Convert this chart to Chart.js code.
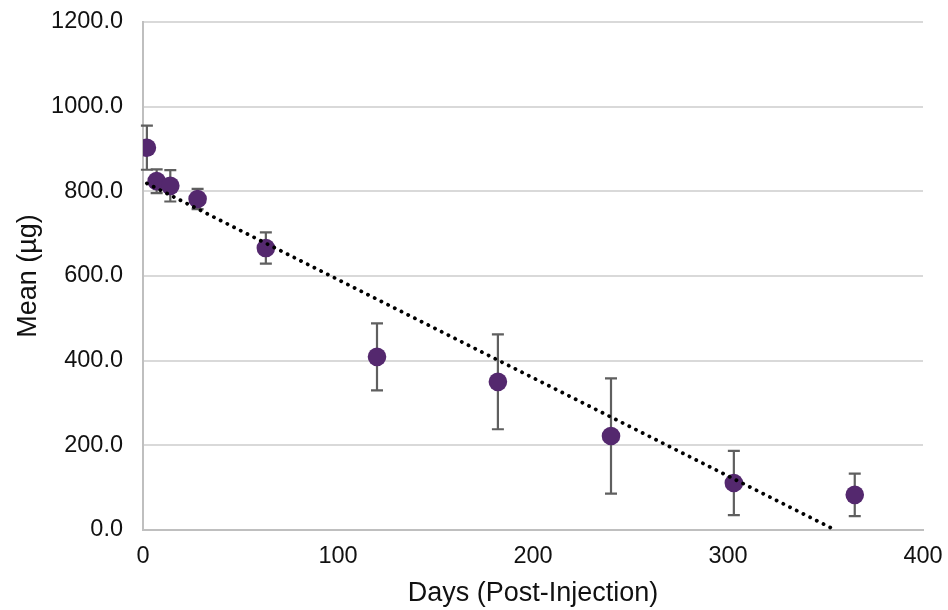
<!DOCTYPE html>
<html>
<head>
<meta charset="utf-8">
<script src="https://cdn.jsdelivr.net/npm/chart.js@4"></script>
<style>
  html, body { margin: 0; padding: 0; background: #fff; }
  #wrap { width: 948px; height: 610px; }
</style>
</head>
<body>
<div id="wrap"><canvas id="chart" width="948" height="610"></canvas></div>
<script>
// data
const days = [2, 7, 14, 28, 63, 120, 182, 240, 303, 365];
const means = [903, 824, 813, 782, 666, 409, 350, 222, 111, 83];
const errs = [52, 28, 37, 24, 37, 79, 112, 136, 76, 50];
const yTicks = [0, 200, 400, 600, 800, 1000, 1200];
const xTicks = [0, 100, 200, 300, 400];

// linear trendline (least squares), clipped at y = 0
const n = days.length;
const mx = days.reduce((a, b) => a + b, 0) / n;
const my = means.reduce((a, b) => a + b, 0) / n;
let sxy = 0, sxx = 0;
days.forEach((d, i) => { sxy += (d - mx) * (means[i] - my); sxx += (d - mx) ** 2; });
const slope = sxy / sxx;
const icpt = my - slope * mx;
const trend = [
  { x: days[0], y: icpt + slope * days[0] },
  { x: -icpt / slope, y: 0 }
];

const errorBars = {
  id: 'errorBars',
  beforeDatasetsDraw(chart) {
    const { ctx, scales: { x, y } } = chart;
    ctx.save();
    ctx.strokeStyle = '#5f5f5f';
    ctx.lineWidth = 2.2;
    days.forEach((d, i) => {
      const px = x.getPixelForValue(d);
      const top = y.getPixelForValue(means[i] + errs[i]);
      const bot = y.getPixelForValue(means[i] - errs[i]);
      ctx.beginPath();
      ctx.moveTo(px, top); ctx.lineTo(px, bot);
      ctx.moveTo(px - 6, top); ctx.lineTo(px + 6, top);
      ctx.moveTo(px - 6, bot); ctx.lineTo(px + 6, bot);
      ctx.stroke();
    });
    ctx.restore();
  }
};

const font = { family: "'Liberation Sans', Arial, sans-serif", size: 23.5 };
const titleFont = { family: "'Liberation Sans', Arial, sans-serif", size: 27 };

new Chart(document.getElementById('chart'), {
  type: 'scatter',
  data: {
    datasets: [
      {
        label: 'Mean',
        data: days.map((d, i) => ({ x: d, y: means[i] })),
        backgroundColor: '#54286e',
        borderWidth: 0,
        pointRadius: 9.3,
        pointHoverRadius: 9.3,
        order: 1
      },
      {
        label: 'Trend',
        type: 'line',
        data: trend,
        borderColor: '#000',
        borderWidth: 3.8,
        borderDash: [0.1, 7.4],
        borderCapStyle: 'round',
        pointRadius: 0,
        fill: false,
        order: 0
      }
    ]
  },
  options: {
    responsive: false,
    animation: false,
    layout: { padding: { top: 22, right: 25, left: 0, bottom: 0 } },
    plugins: { legend: { display: false }, tooltip: { enabled: false } },
    scales: {
      x: {
        type: 'linear',
        min: 0, max: 400,
        afterBuildTicks: s => { s.ticks = xTicks.map(v => ({ value: v })); },
        afterFit: s => { s.height = 80; s.paddingLeft = 0; s.paddingRight = 0; },
        ticks: { color: '#111', font, padding: 12 },
        grid: { color: 'rgba(0,0,0,0)', drawTicks: false },
        border: { color: '#bfbfbf', width: 2 },
        title: { display: true, text: 'Days (Post-Injection)', color: '#111', font: titleFont, padding: { top: 0, bottom: 0 } }
      },
      y: {
        min: 0, max: 1200,
        afterBuildTicks: s => { s.ticks = yTicks.map(v => ({ value: v })); },
        afterFit: s => { s.width = 143; s.paddingTop = 0; s.paddingBottom = 0; },
        ticks: { color: '#111', font, padding: 20, callback: v => v.toFixed(1) },
        grid: { color: '#d9d9d9', lineWidth: 2, drawTicks: false },
        border: { color: '#bfbfbf', width: 2 },
        title: { display: true, text: 'Mean (µg)', color: '#111', font: titleFont, padding: { top: 12, bottom: 0 } }
      }
    }
  },
  plugins: [errorBars]
});
</script>
</body>
</html>
